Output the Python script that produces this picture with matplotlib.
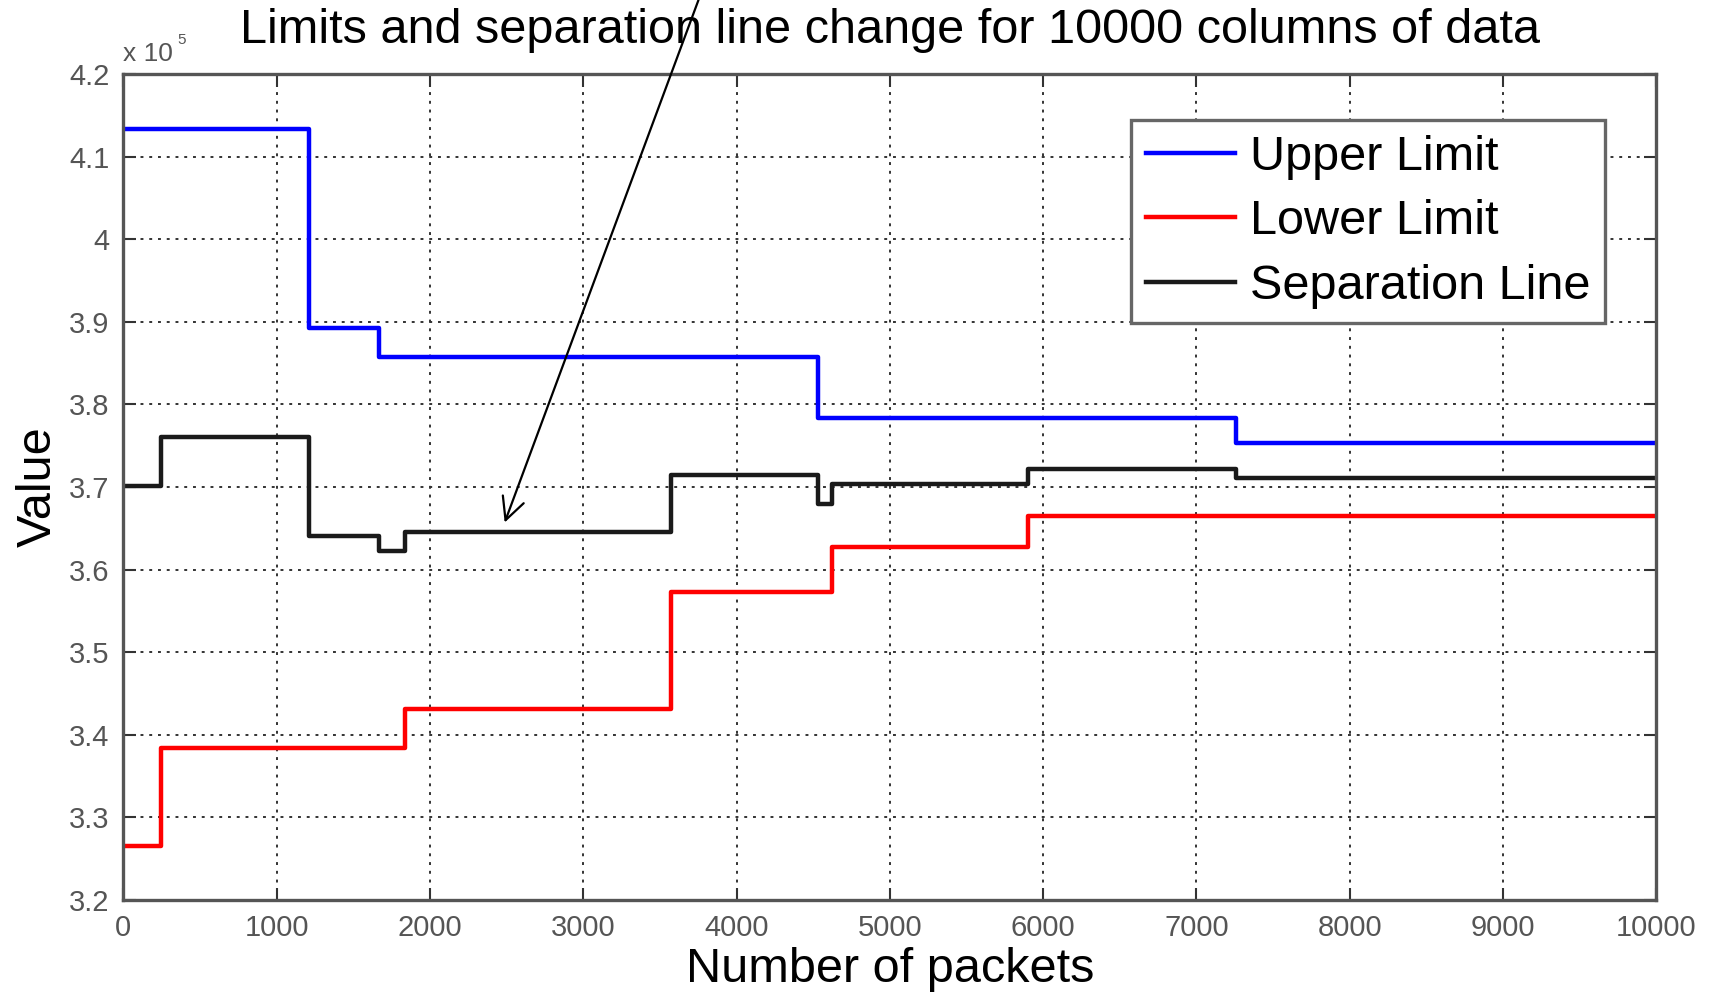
import matplotlib
matplotlib.use("Agg")
import matplotlib.pyplot as plt

# values in units of 1e5, step changes ("post") at the given packet counts
upper_x = [0, 1210, 1670, 4530, 7260, 10000]
upper_y = [4.133, 3.892, 3.857, 3.784, 3.753, 3.753]
lower_x = [0, 243, 1840, 3570, 4620, 5900, 10000]
lower_y = [3.265, 3.384, 3.431, 3.573, 3.627, 3.665, 3.665]
sep_x = [0, 243, 1210, 1670, 1840, 3570, 4530, 4620, 5900, 7260, 10000]
sep_y = [3.701, 3.761, 3.641, 3.623, 3.645, 3.715, 3.680, 3.704, 3.722, 3.711, 3.711]

x_ticks = list(range(0, 10001, 1000))
y_ticks = [3.2, 3.3, 3.4, 3.5, 3.6, 3.7, 3.8, 3.9, 4.0, 4.1, 4.2]
y_tick_labels = ["3.2", "3.3", "3.4", "3.5", "3.6", "3.7", "3.8", "3.9", "4", "4.1", "4.2"]
arrow_at = (2487, 3.657)

plt.rcParams["font.family"] = ["Liberation Sans", "DejaVu Sans"]
GREY = "#555555"

fig = plt.figure(figsize=(17.12, 10), dpi=100)
ax = fig.add_axes([0.0721, 0.100, 0.8954, 0.826])

lw = 3.2
ax.step(upper_x, upper_y, where="post", color="#0000ff", lw=lw, label="Upper Limit")
ax.step(lower_x, lower_y, where="post", color="#ff0000", lw=lw, label="Lower Limit")
ax.step(sep_x, sep_y, where="post", color="#1a1a1a", lw=lw, label="Separation Line")

ax.set_xlim(0, 10000)
ax.set_ylim(3.2, 4.2)
ax.set_xticks(x_ticks)
ax.set_xticklabels([str(t) for t in x_ticks], fontsize=21, color=GREY)
ax.set_yticks(y_ticks)
ax.set_yticklabels(y_tick_labels, fontsize=21, color=GREY)
ax.tick_params(direction="in", length=9, width=1.5, top=True, right=True,
               color="#333333", pad=10)
ax.grid(True, color="#333333", linestyle=(0, (1.5, 3.0)), linewidth=1.4)
for s in ax.spines.values():
    s.set_color(GREY)
    s.set_linewidth(2.4)

ax.set_xlabel("Number of packets", fontsize=35, labelpad=4)
ax.set_ylabel("Value", fontsize=35, labelpad=6)
ax.set_title("Limits and separation line change for 10000 columns of data",
             fontsize=35, pad=22)

ax.text(0.0, 1.01, "x 10", transform=ax.transAxes,
        fontsize=19, color=GREY, ha="left", va="bottom")
ax.text(0.035, 1.033, "5", transform=ax.transAxes,
        fontsize=11, color=GREY, ha="left", va="bottom")

leg = ax.legend(loc="upper right", bbox_to_anchor=(0.9666, 0.944), borderaxespad=0,
                fontsize=35, fancybox=False, framealpha=1, edgecolor="#666666",
                handlelength=1.85, handletextpad=0.3, labelspacing=0.4, borderpad=0.3)
leg.get_frame().set_linewidth(2.4)

ax.annotate("", xy=arrow_at, xycoords="data", xytext=(0.408, 1.0),
            textcoords="figure fraction",
            arrowprops=dict(arrowstyle="->", color="black", lw=1.6,
                            mutation_scale=40, shrinkA=0, shrinkB=0))

fig.savefig("out.png", dpi=100)
